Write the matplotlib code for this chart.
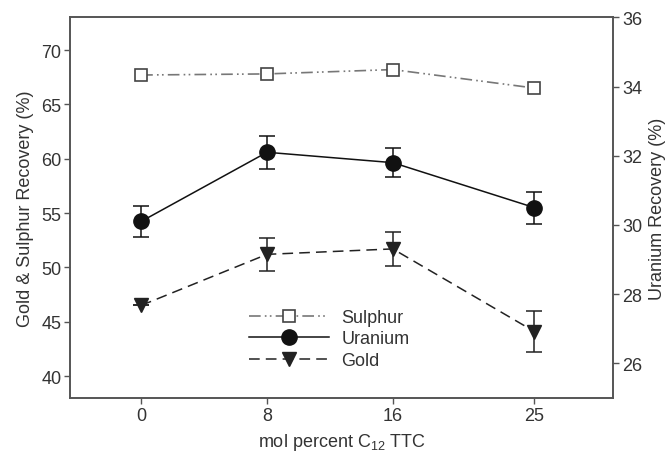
import matplotlib
matplotlib.use("Agg")
import matplotlib.pyplot as plt
from matplotlib.lines import Line2D

plt.rcParams['font.family'] = ['Liberation Sans', 'DejaVu Sans']
plt.rcParams['mathtext.default'] = 'regular'

conc = [0, 8, 16, 25]
xticklabels = ['0', '8', '16', '25']
sulphur = [67.7, 67.8, 68.2, 66.5]
uranium = [30.1, 32.1, 31.8, 30.5]
uranium_err = [0.44, 0.47, 0.42, 0.46]
gold = [46.5, 51.2, 51.7, 44.1]
gold_err = [0.0, 1.5, 1.6, 1.9]

txt = '#333333'
fs = 13
fig = plt.figure(figsize=(6.7, 4.6), dpi=100)
ax = fig.add_axes([0.105, 0.133, 0.81, 0.827])
ax2 = ax.twinx()

sul_ls = (0, (7, 2.5, 1, 2, 1, 2.5))
ax.plot(conc, sulphur, color='#777777', linestyle=sul_ls, linewidth=1.2, zorder=2)
ax.plot(conc, sulphur, linestyle='none', marker='s', markersize=9,
        markerfacecolor='white', markeredgecolor='#444444', markeredgewidth=1.2, zorder=3)

ax.errorbar(conc, gold, yerr=gold_err, color='#222222', linestyle=(0, (7, 4)), linewidth=1.1,
            marker='v', markersize=9.5, capsize=5.5, elinewidth=1.1, capthick=1.1, zorder=3)

ax2.errorbar(conc, uranium, yerr=uranium_err, color='#111111', linestyle='-', linewidth=1.1,
             marker='o', markersize=11, capsize=5.5, elinewidth=1.1, capthick=1.1, zorder=3)

ax.set_xlim(-4.5, 30)
ax.set_ylim(38, 73)
ax2.set_ylim(25, 36)
ax.set_xticks(conc)
ax.set_xticklabels(xticklabels)
ax.set_yticks([40, 45, 50, 55, 60, 65, 70])
ax2.set_yticks([26, 28, 30, 32, 34, 36])

for a in (ax, ax2):
    for s in a.spines.values():
        s.set_color('#555555')
        s.set_linewidth(1.2)
    a.tick_params(colors='#555555', labelcolor=txt, labelsize=fs, length=4, width=1,
                  direction='out', pad=2.5)

ax.set_ylabel('Gold & Sulphur Recovery (%)', fontsize=fs, color=txt, labelpad=5)
ax2.set_ylabel('Uranium Recovery (%)', fontsize=fs, color=txt, labelpad=5)
ax.set_xlabel('mol percent C$_{12}$ TTC', fontsize=fs, color=txt, labelpad=5)

handles = [
    Line2D([], [], color='#777777', linestyle=sul_ls, linewidth=1.2, marker='s', markersize=9,
           markerfacecolor='white', markeredgecolor='#444444', markeredgewidth=1.2),
    Line2D([], [], color='#111111', linestyle='-', linewidth=1.1, marker='o', markersize=11),
    Line2D([], [], color='#222222', linestyle=(0, (7, 4)), linewidth=1.1, marker='v', markersize=9.5),
]
leg = ax.legend(handles, ['Sulphur', 'Uranium', 'Gold'], loc='center left',
                bbox_to_anchor=(0.30, 0.155), frameon=False, fontsize=fs,
                handlelength=4.4, numpoints=1, labelspacing=0.25, handletextpad=0.7)
for t in leg.get_texts():
    t.set_color(txt)

fig.savefig('out.png', dpi=100)
